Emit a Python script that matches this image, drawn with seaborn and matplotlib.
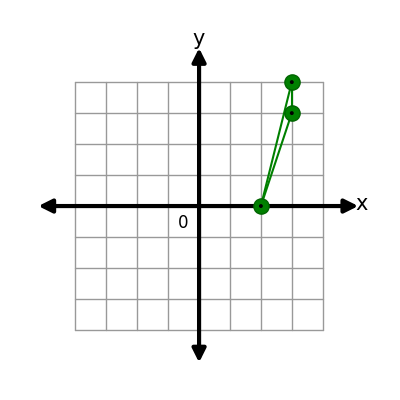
import matplotlib
matplotlib.use("Agg")
import matplotlib.pyplot as plt
import seaborn as sns
import pandas as pd

# points of the triangle (grid units)
pt_x = [2, 3, 3]
pt_y = [0, 4, 3]
# segments drawn between points
seg_from = [0, 0, 1]
seg_to = [1, 2, 2]
grid_ticks = [-4, -3, -2, -1, 0, 1, 2, 3, 4]

sns.set_style("white")
fig = plt.figure(figsize=(4, 4), dpi=100)
ax = fig.add_axes([0, 0, 1, 1])
ax.set_xlim(-6.44, 6.50)
ax.set_ylim(-6.26, 6.65)
ax.axis("off")

# grid
for t in grid_ticks:
    ax.plot([t, t], [-4, 4], color="#999999", lw=1, zorder=1)
    ax.plot([-4, 4], [t, t], color="#999999", lw=1, zorder=1)

# axes with arrows
arrow = dict(arrowstyle="-|>,head_length=0.8,head_width=0.4", color="black", lw=3,
             shrinkA=0, shrinkB=0)
ax.annotate("", xy=(5.15, 0), xytext=(0, 0), arrowprops=arrow, zorder=3)
ax.annotate("", xy=(-5.2, 0), xytext=(0, 0), arrowprops=arrow, zorder=3)
ax.annotate("", xy=(0, 5.1), xytext=(0, 0), arrowprops=arrow, zorder=3)
ax.annotate("", xy=(0, -5.05), xytext=(0, 0), arrowprops=arrow, zorder=3)
ax.text(5.05, 0.05, "x", fontsize=15, ha="left", va="center", color="black")
ax.text(0, 5.08, "y", fontsize=15, ha="center", va="bottom", color="black")
ax.text(-0.5, -0.55, "0", fontsize=12, ha="center", va="center", color="black")

# segments
for a, b in zip(seg_from, seg_to):
    seg = pd.DataFrame({"x": [pt_x[a], pt_x[b]], "y": [pt_y[a], pt_y[b]]})
    sns.lineplot(data=seg, x="x", y="y", ax=ax, color="green", lw=1.5,
                 sort=False, estimator=None, zorder=4)

pts = pd.DataFrame({"x": pt_x, "y": pt_y})
sns.scatterplot(data=pts, x="x", y="y", ax=ax, s=120, color="green",
                edgecolor="#006400", linewidth=1, zorder=5)
sns.scatterplot(data=pts, x="x", y="y", ax=ax, s=8, color="black",
                edgecolor="none", zorder=6)
ax.set_xlabel("")
ax.set_ylabel("")

fig.savefig("out.png", dpi=100)
